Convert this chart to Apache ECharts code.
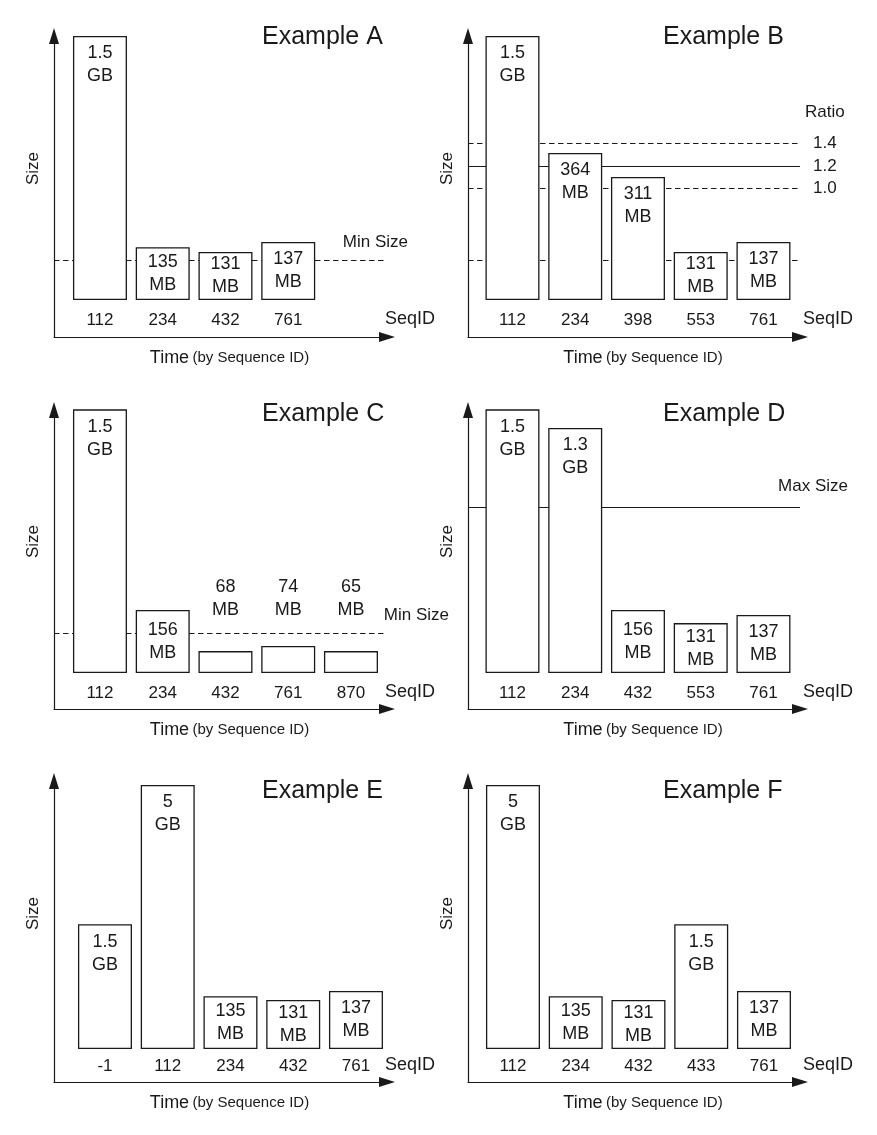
<!DOCTYPE html>
<html>
<head>
<meta charset="utf-8">
<script src="https://cdn.jsdelivr.net/npm/echarts@6/dist/echarts.min.js"></script>
<style>
  html, body { margin: 0; padding: 0; background: #fff; }
  #container { width: 877px; height: 1135px; }
</style>
</head>
<body>
<div id="container"></div>
<script>
// bar heights are relative (schematic) sizes: 100 = tallest bar of a panel
const seqA = ['112', '234', '432', '761']
const heightA = [100, 20, 18.2, 22]
const sizeA = ['1.5 GB', '135 MB', '131 MB', '137 MB']

const seqB = ['112', '234', '398', '553', '761']
const heightB = [100, 55.7, 46.6, 18.2, 22]
const sizeB = ['1.5 GB', '364 MB', '311 MB', '131 MB', '137 MB']

const seqC = ['112', '234', '432', '761', '870']
const heightC = [100, 23.9, 8.3, 10.2, 8.3]
const sizeC = ['1.5 GB', '156 MB', '68 MB', '74 MB', '65 MB']

const seqD = ['112', '234', '432', '553', '761']
const heightD = [100, 92.8, 23.9, 18.9, 22]
const sizeD = ['1.5 GB', '1.3 GB', '156 MB', '131 MB', '137 MB']

const seqE = ['-1', '112', '234', '432', '761']
const heightE = [47.3, 100, 20, 18.6, 22]
const sizeE = ['1.5 GB', '5 GB', '135 MB', '131 MB', '137 MB']

const seqF = ['112', '234', '432', '433', '761']
const heightF = [100, 20, 18.6, 47.3, 22]
const sizeF = ['5 GB', '135 MB', '131 MB', '1.5 GB', '137 MB']

// reference levels, same relative units
const minSizeLevel = 15.2
const maxSizeLevel = 62.9
const ratioLabels = ['1.4', '1.2', '1.0']
const ratioLevels = [59.5, 50.8, 42.4]

const ink = '#1a1a1a'
const font = '"Liberation Sans", Arial, Helvetica, sans-serif'
const pxPerUnit = 2.64
const pitch = 62.75
const arrowLen = 16
// labels of very small bars all sit on one level above the min size line
const outsideLabelLevel = 19.6

// page layout of the 3x2 panels
const rows = [
  { tip: 28, axis: 337, base: 300, tick: 319, title: 38 },
  { tip: 402, axis: 709, base: 673, tick: 692, title: 415 },
  { tip: 773, axis: 1082, base: 1049, tick: 1065, title: 792 }
]
const cols = [
  { axisX: 54, endX: 387, seqX: 385, titleX: 262 },
  { axisX: 468, endX: 800, seqX: 803, titleX: 663 }
]

const dashed = [5.5, 3.5]

const panels = [
  {
    title: 'Example A', row: 0, col: 0, barLeft: 68.6, seq: seqA, height: heightA, size: sizeA,
    lines: [{ level: minSizeLevel, type: dashed, label: 'Min Size', pos: 'insideEndTop', dist: [-21, 9] }]
  },
  {
    title: 'Example B', row: 0, col: 1, barLeft: 481.1, seq: seqB, height: heightB, size: sizeB,
    lines: [
      { level: ratioLevels[0], type: dashed, label: ratioLabels[0], pos: 'end', dist: 13 },
      { level: ratioLevels[1], type: 'solid', label: ratioLabels[1], pos: 'end', dist: 13 },
      { level: ratioLevels[2], type: dashed, label: ratioLabels[2], pos: 'end', dist: 13 },
      { level: minSizeLevel, type: dashed }
    ]
  },
  {
    title: 'Example C', row: 1, col: 0, barLeft: 68.6, seq: seqC, height: heightC, size: sizeC,
    lines: [{ level: minSizeLevel, type: dashed, label: 'Min Size', pos: 'insideEndTop', dist: [-62, 9] }]
  },
  {
    title: 'Example D', row: 1, col: 1, barLeft: 481.1, seq: seqD, height: heightD, size: sizeD,
    lines: [{ level: maxSizeLevel, type: 'solid', label: 'Max Size', pos: 'insideEndTop', dist: [-48, 12] }]
  },
  { title: 'Example E', row: 2, col: 0, barLeft: 73.6, seq: seqE, height: heightE, size: sizeE, lines: [] },
  { title: 'Example F', row: 2, col: 1, barLeft: 481.6, seq: seqF, height: heightF, size: sizeF, lines: [] }
]

function barLabel(h) {
  // tiny bars carry their label above, small ones centred, tall ones at the top
  if (h < 15) return { position: 'top', distance: (outsideLabelLevel - h) * pxPerUnit }
  if (h < 30) return { position: 'inside' }
  return { position: 'insideTop', distance: 6 }
}

const grid = []
const xAxis = []
const yAxis = []
const series = []
const title = []
const graphic = []

panels.forEach(function(p, i) {
  const r = rows[p.row]
  const c = cols[p.col]
  const top = r.tip + arrowLen / 2
  const yMin = -(r.axis - r.base) / pxPerUnit
  const yMax = (r.base - top) / pxPerUnit

  // frame grid: the two arrowed axes and the reference lines
  grid.push({ left: c.axisX, top: top, width: c.endX - c.axisX, height: r.axis - top })
  // bar grid, its bottom edge is the bar baseline
  grid.push({ left: p.barLeft, top: top, width: pitch * p.seq.length, height: r.base - top })

  xAxis.push({
    gridIndex: 2 * i,
    type: 'value',
    min: 0,
    max: 1,
    axisLine: {
      show: true,
      onZero: false,
      symbol: ['none', 'triangle'],
      symbolSize: [10, arrowLen],
      lineStyle: { color: ink, width: 1.2 }
    },
    axisTick: { show: false },
    axisLabel: { show: false },
    splitLine: { show: false },
    name: '{t|Time} {s|(by Sequence ID)}',
    nameLocation: 'middle',
    nameGap: 12,
    nameTextStyle: {
      padding: [0, 0, 0, 18],
      rich: {
        t: { fontSize: 18, color: ink, fontFamily: font },
        s: { fontSize: 15, color: ink, fontFamily: font }
      }
    }
  })
  xAxis.push({
    gridIndex: 2 * i + 1,
    type: 'category',
    data: p.seq,
    axisLine: { show: false },
    axisTick: { show: false },
    axisLabel: { margin: r.tick - r.base - 7, fontSize: 17, color: ink, fontFamily: font },
    splitLine: { show: false }
  })

  yAxis.push({
    gridIndex: 2 * i,
    type: 'value',
    min: yMin,
    max: yMax,
    axisLine: {
      show: true,
      onZero: false,
      symbol: ['none', 'triangle'],
      symbolSize: [10, arrowLen],
      lineStyle: { color: ink, width: 1.2 }
    },
    axisTick: { show: false },
    axisLabel: { show: false },
    splitLine: { show: false },
    name: 'Size',
    nameLocation: 'middle',
    nameGap: 12,
    nameTextStyle: { fontSize: 17, color: ink, fontFamily: font, padding: [0, 0, 0, 36] }
  })
  yAxis.push({
    gridIndex: 2 * i + 1,
    type: 'value',
    min: 0,
    max: yMax,
    show: false
  })

  series.push({
    name: p.title,
    type: 'bar',
    xAxisIndex: 2 * i + 1,
    yAxisIndex: 2 * i + 1,
    z: 3,
    barWidth: 54,
    animation: false,
    itemStyle: { color: '#fff', borderColor: ink, borderWidth: 1.3 },
    label: {
      show: true,
      fontSize: 18,
      lineHeight: 23,
      color: ink,
      fontFamily: font,
      formatter: function(params) {
        return p.size[params.dataIndex].replace(' ', '\n')
      }
    },
    data: p.height.map(function(h) {
      return { value: h, label: barLabel(h) }
    })
  })

  if (p.lines.length) {
    series.push({
      type: 'line',
      xAxisIndex: 2 * i,
      yAxisIndex: 2 * i,
      data: [],
      animation: false,
      markLine: {
        silent: true,
        animation: false,
        z: 1,
        symbol: ['none', 'none'],
        data: p.lines.map(function(l) {
          return {
            yAxis: l.level,
            lineStyle: { color: ink, width: 1.2, type: l.type },
            label: l.label
              ? { show: true, formatter: l.label, position: l.pos, distance: l.dist, fontSize: 17, color: ink, fontFamily: font }
              : { show: false }
          }
        })
      }
    })
  }

  title.push({
    text: p.title,
    left: c.titleX,
    top: r.title - 13,
    padding: 0,
    textStyle: { fontSize: 25, fontWeight: 'normal', color: ink, fontFamily: font }
  })

  graphic.push({
    type: 'text',
    x: c.seqX,
    y: r.tick,
    style: { text: 'SeqID', fontSize: 18, fill: ink, fontFamily: font, verticalAlign: 'middle' }
  })
})

// the "Ratio" heading over the ratio levels of example B
graphic.push({
  type: 'text',
  x: 805,
  y: 112,
  style: { text: 'Ratio', fontSize: 17, fill: ink, fontFamily: font, verticalAlign: 'middle' }
})

let chartDom = document.getElementById('container')
let myChart = echarts.init(chartDom, null, { renderer: 'canvas' })
let option = {
  backgroundColor: '#fff',
  animation: false,
  title: title,
  grid: grid,
  xAxis: xAxis,
  yAxis: yAxis,
  series: series,
  graphic: graphic
}
option && myChart.setOption(option)
</script>
</body>
</html>
